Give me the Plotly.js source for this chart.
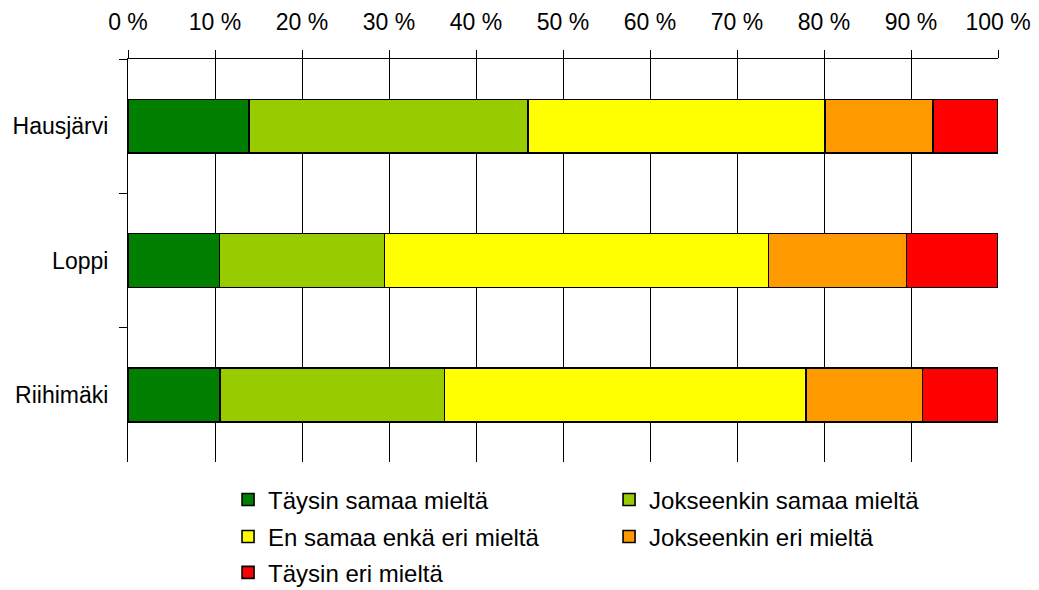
<!DOCTYPE html>
<html>
<head>
<meta charset="utf-8">
<script src="https://cdn.plot.ly/plotly-3.0.1.min.js"></script>
<style>html,body{margin:0;padding:0;background:#fff;}#chart{width:1039px;height:590px;}</style>
</head>
<body>
<div id="chart"></div>
<script>
const categories = ["Hausjärvi", "Loppi", "Riihimäki"];
const seriesNames = ["Täysin samaa mieltä", "Jokseenkin samaa mieltä", "En samaa enkä eri mieltä", "Jokseenkin eri mieltä", "Täysin eri mieltä"];
const taysinSamaa = [13.9, 10.5, 10.6];
const jokseenkinSamaa = [32.1, 19.0, 25.8];
const enSamaaEnkaEri = [34.1, 44.1, 41.5];
const jokseenkinEri = [12.4, 15.9, 13.4];
const taysinEri = [7.5, 10.5, 8.7];
const xTickVals = [0, 10, 20, 30, 40, 50, 60, 70, 80, 90, 100];
const xTickText = ["0 %", "10 %", "20 %", "30 %", "40 %", "50 %", "60 %", "70 %", "80 %", "90 %", "100 %"];
const colors = ["#007f00", "#99cc00", "#ffff00", "#ff9900", "#ff0000"];

const values = [taysinSamaa, jokseenkinSamaa, enSamaaEnkaEri, jokseenkinEri, taysinEri];
const legendRow = ["legend", "legend", "legend2", "legend2", "legend3"];
const traces = values.map((v, i) => ({
  type: "bar",
  orientation: "h",
  name: seriesNames[i],
  x: v,
  y: categories,
  width: 0.4,
  legend: legendRow[i],
  marker: { color: colors[i], line: { color: "#000", width: 1.6 } },
  hoverinfo: "x+y+name"
}));

function legendAt(y) {
  return {
    orientation: "h", x: 0.115, xanchor: "left", y: y, yanchor: "middle",
    entrywidth: 336, entrywidthmode: "pixels", traceorder: "normal",
    font: { family: "Liberation Sans, Arial, sans-serif", size: 24, color: "#000" },
    bgcolor: "rgba(0,0,0,0)", borderwidth: 0
  };
}

const layout = {
  width: 1039, height: 590,
  margin: { l: 128, r: 41, t: 59, b: 128, pad: 0, autoexpand: false },
  paper_bgcolor: "#fff", plot_bgcolor: "#fff",
  font: { family: "Liberation Sans, Arial, sans-serif", size: 23, color: "#000" },
  barmode: "stack",
  showlegend: true,
  xaxis: {
    side: "top", range: [0, 100], tickvals: xTickVals, ticktext: xTickText,
    showgrid: true, gridcolor: "#000", gridwidth: 1,
    showline: true, linecolor: "#000", linewidth: 1,
    ticks: "outside", ticklen: 8, tickcolor: "#000",
    ticklabelstandoff: 11, automargin: false,
    zeroline: false, fixedrange: true
  },
  yaxis: {
    type: "category", categoryorder: "array", categoryarray: categories,
    autorange: "reversed",
    showgrid: false, showline: true, linecolor: "#000", linewidth: 1,
    ticks: "outside", tickson: "boundaries", ticklen: 8, tickcolor: "#000",
    ticklabelstandoff: 14, automargin: false, zeroline: false, fixedrange: true
  },
  legend: legendAt(-0.094),
  legend2: legendAt(-0.186),
  legend3: legendAt(-0.275)
};

Plotly.newPlot("chart", traces, layout, { displayModeBar: false, staticPlot: true });
</script>
</body>
</html>
